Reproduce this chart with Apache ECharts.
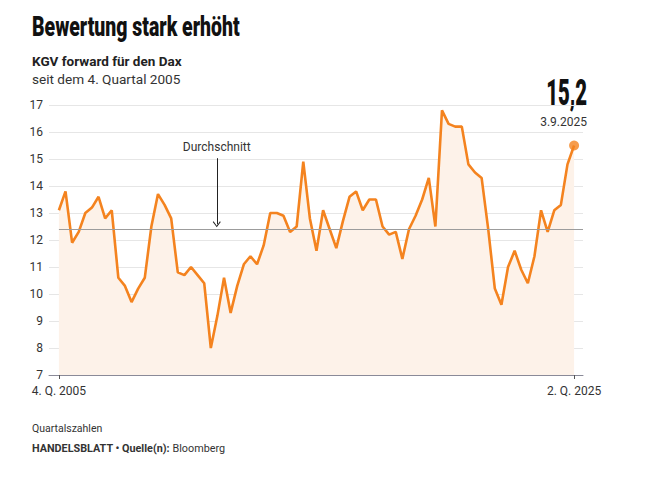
<!DOCTYPE html>
<html>
<head>
<meta charset="utf-8">
<script src="https://cdn.jsdelivr.net/npm/echarts@6/dist/echarts.min.js"></script>
<style>
    html, body {margin: 0; padding: 0; background: #fff;}
    #chart {width: 655px; height: 477px;}
</style>
</head>
<body>
<div id="chart"></div>
<script>
// KGV forward, Dax, quarterly from 4. Q. 2005 to 2. Q. 2025
var kgv = [
    13.1, 13.8, 11.9, 12.3, 13.0, 13.2, 13.6, 12.8, 13.1, 10.6,
    10.3, 9.7, 10.2, 10.6, 12.5, 13.7, 13.3, 12.8, 10.8, 10.7,
    11.0, 10.7, 10.4, 8.0, 9.2, 10.6, 9.3, 10.3, 11.1, 11.4,
    11.1, 11.8, 13.0, 13.0, 12.9, 12.3, 12.5, 14.9, 12.8, 11.6,
    13.1, 12.4, 11.7, 12.7, 13.6, 13.8, 13.1, 13.5, 13.5, 12.5,
    12.2, 12.3, 11.3, 12.4, 12.9, 13.5, 14.3, 12.5, 16.8, 16.3,
    16.2, 16.2, 14.8, 14.5, 14.3, 12.4, 10.2, 9.6, 11.0, 11.6,
    10.9, 10.4, 11.4, 13.1, 12.3, 13.1, 13.3, 14.8, 15.5
];
var durchschnitt = 12.4;
var yTicks = [7, 8, 9, 10, 11, 12, 13, 14, 15, 16, 17];
var aktuellWert = '15,2';
var aktuellDatum = '3.9.2025';

// quarter labels
var quartale = [];
var q = 4, jahr = 2005;
for (var i = 0; i < kgv.length; i++) {
    quartale.push(q + '. Q. ' + jahr);
    q++;
    if (q > 4) { q = 1; jahr++; }
}
var last = kgv.length - 1;

var ORANGE = '#f4831f';
var chart = echarts.init(document.getElementById('chart'), null, {renderer: 'svg'});

chart.setOption({
    animation: false,
    grid: {left: 49, right: 72, top: 105, bottom: 102},
    xAxis: {
        type: 'value',
        min: -1.5,
        max: last + 1.35,
        splitLine: {show: false},
        axisLine: {lineStyle: {color: '#8a8a98', width: 1}},
        axisTick: {show: true, customValues: [0, last], length: 4, lineStyle: {color: '#555'}},
        axisLabel: {
            customValues: [0, last],
            margin: 10,
            fontSize: 12,
            fontFamily: 'Roboto',
            color: '#333',
            formatter: function (v) { return quartale[Math.round(v)]; }
        }
    },
    yAxis: {
        type: 'value',
        min: yTicks[0],
        max: yTicks[yTicks.length - 1],
        interval: 1,
        axisLine: {show: false},
        axisTick: {show: false},
        axisLabel: {margin: 6, fontSize: 12, fontFamily: 'Roboto', color: '#333'},
        splitLine: {lineStyle: {color: '#e6e6e6', width: 1}}
    },
    series: [{
        type: 'line',
        data: kgv.map(function (v, i) { return [i, v]; }),
        showSymbol: false,
        lineStyle: {color: ORANGE, width: 2.6},
        itemStyle: {color: ORANGE},
        areaStyle: {color: '#fdf2e9', origin: 'start', opacity: 1},
        markLine: {
            silent: true,
            symbol: 'none',
            animation: false,
            data: [
                [
                    {coord: [0, durchschnitt], lineStyle: {color: '#9c9c9c', width: 1, type: 'solid'}, label: {show: false}},
                    {coord: [last + 1.35, durchschnitt]}
                ],
                [
                    {
                        coord: [23.9, 15.03],
                        symbol: 'none',
                        lineStyle: {color: '#222', width: 1, type: 'solid'},
                        label: {
                            show: true, position: 'start', formatter: 'Durchschnitt', distance: 5,
                            fontSize: 12, fontFamily: 'Roboto', color: '#333'
                        }
                    },
                    {coord: [23.9, 12.58], symbol: 'path://M5,0L10,7L9,8L5,2L1,8L0,7Z', symbolSize: [8, 6]}
                ]
            ]
        }
    }, {
        type: 'scatter',
        data: [[last, kgv[last]]],
        symbolSize: 10,
        itemStyle: {color: ORANGE},
        z: 5
    }],
    graphic: [
        {type: 'text', x: 32, y: 27, scaleX: 0.72,
            style: {text: 'Bewertung stark erhöht', font: '900 27px Roboto', fill: '#111', verticalAlign: 'middle'}},
        {type: 'text', x: 32, y: 61,
            style: {text: 'KGV forward für den Dax', font: 'bold 13.5px Roboto', fill: '#222', verticalAlign: 'middle'}},
        {type: 'text', x: 32, y: 79,
            style: {text: 'seit dem 4. Quartal 2005', font: '13.6px Roboto', fill: '#333', verticalAlign: 'middle'}},
        {type: 'text', x: 587, y: 92, scaleX: 0.55,
            style: {text: aktuellWert, font: '900 37px Roboto', fill: '#111', align: 'right', verticalAlign: 'middle'}},
        {type: 'text', x: 587, y: 122,
            style: {text: aktuellDatum, font: '12px Roboto', fill: '#333', align: 'right', verticalAlign: 'middle'}},
        {type: 'text', x: 32, y: 428,
            style: {text: 'Quartalszahlen', font: '10.5px Roboto', fill: '#333', verticalAlign: 'middle'}},
        {type: 'text', x: 32, y: 448,
            style: {
                text: '{b|HANDELSBLATT • Quelle(n):} Bloomberg',
                font: '10.8px Roboto', fill: '#333', verticalAlign: 'middle',
                rich: {b: {fontWeight: 'bold', fontSize: 10.8, fontFamily: 'Roboto', fill: '#333'}}
            }}
    ]
});
</script>
</body>
</html>
